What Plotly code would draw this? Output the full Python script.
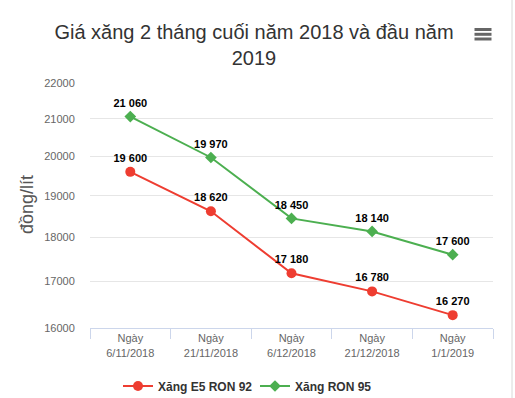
import plotly.graph_objects as go

categories = ["Ngày<br>6/11/2018", "Ngày<br>21/11/2018", "Ngày<br>6/12/2018",
              "Ngày<br>21/12/2018", "Ngày<br>1/1/2019"]
e5_ron92 = [19600, 18620, 17180, 16780, 16270]
ron95 = [21060, 19970, 18450, 18140, 17600]
y_ticks = [16000, 17000, 18000, 19000, 20000, 21000, 22000]

RED = "#ee3d31"
GREEN = "#4caf50"
FONT = "Liberation Sans, Arial, sans-serif"


def fmt(v):
    return f"{v:,}".replace(",", " ")


fig = go.Figure()
fig.add_trace(go.Scatter(
    x=categories, y=e5_ron92, name="Xăng E5 RON 92",
    mode="lines+markers+text",
    line=dict(color=RED, width=2),
    marker=dict(color=RED, size=10, symbol="circle"),
    text=[fmt(v) for v in e5_ron92], textposition="top center",
    textfont=dict(family=FONT, size=11, color="#000000", weight="bold"),
    cliponaxis=False,
))
fig.add_trace(go.Scatter(
    x=categories, y=ron95, name="Xăng RON 95",
    mode="lines+markers+text",
    line=dict(color=GREEN, width=2),
    marker=dict(color=GREEN, size=9, symbol="diamond"),
    text=[fmt(v) for v in ron95], textposition="top center",
    textfont=dict(family=FONT, size=11, color="#000000", weight="bold"),
    cliponaxis=False,
))

W, H = 515, 398
L, R, T, B = 90, 22, 83, 70
pw, ph = W - L - R, H - T - B


def px(x):
    return (x - L) / pw


def py(y):
    return (H - B - y) / ph


shapes = []
# right border line
shapes.append(dict(type="line", xref="paper", yref="paper",
                   x0=px(512), x1=px(512), y0=py(H), y1=py(0),
                   line=dict(color="#d8d8d8", width=1)))
# hamburger menu icon
for yy in (29.5, 34.3, 39.0):
    shapes.append(dict(type="line", xref="paper", yref="paper",
                       x0=px(474.5), x1=px(491.5), y0=py(yy), y1=py(yy),
                       line=dict(color="#666666", width=3)))

fig.update_layout(
    width=W, height=H,
    margin=dict(l=L, r=R, t=T, b=B, autoexpand=False),
    paper_bgcolor="white", plot_bgcolor="white",
    font=dict(family=FONT, color="#666666"),
    title=dict(text="Giá xăng 2 tháng cuối năm 2018 và đầu năm<br>2019",
               x=254 / W, xref="container", xanchor="center",
               y=1 - 39 / H, yref="container", yanchor="top",
               font=dict(family=FONT, size=20, color="#333333")),
    showlegend=True,
    legend=dict(orientation="h", x=px(118), xanchor="left",
                y=py(386), yanchor="middle",
                font=dict(family=FONT, size=12, color="#333333", weight="bold"),
                itemwidth=30, entrywidth=92, bgcolor="rgba(0,0,0,0)"),
    shapes=shapes,
    annotations=[dict(text="đồng/lít", textangle=-90, xref="paper", yref="paper",
                      x=px(27), y=py(205), xanchor="center", yanchor="middle",
                      showarrow=False,
                      font=dict(family=FONT, size=18, color="#555555"))],
)

fig.update_xaxes(
    type="category", range=[-0.5, 4.5],
    showgrid=False, showline=True, linecolor="#ccd6eb", linewidth=1,
    ticks="outside", tickson="boundaries", ticklen=10, tickcolor="#ccd6eb",
    tickfont=dict(family=FONT, size=11, color="#666666"),
)
fig.update_yaxes(
    type="log", range=[4.20412, 4.342423],
    tickvals=y_ticks, ticktext=[str(v) for v in y_ticks],
    showgrid=True, gridcolor="#e6e6e6", gridwidth=1,
    zeroline=False, showline=False,
    ticks="outside", ticklen=12, tickcolor="rgba(0,0,0,0)",
    tickfont=dict(family=FONT, size=11, color="#666666"),
)

fig.write_html("out.html", config={"displayModeBar": False},
               post_script="document.body.style.margin='0';")
